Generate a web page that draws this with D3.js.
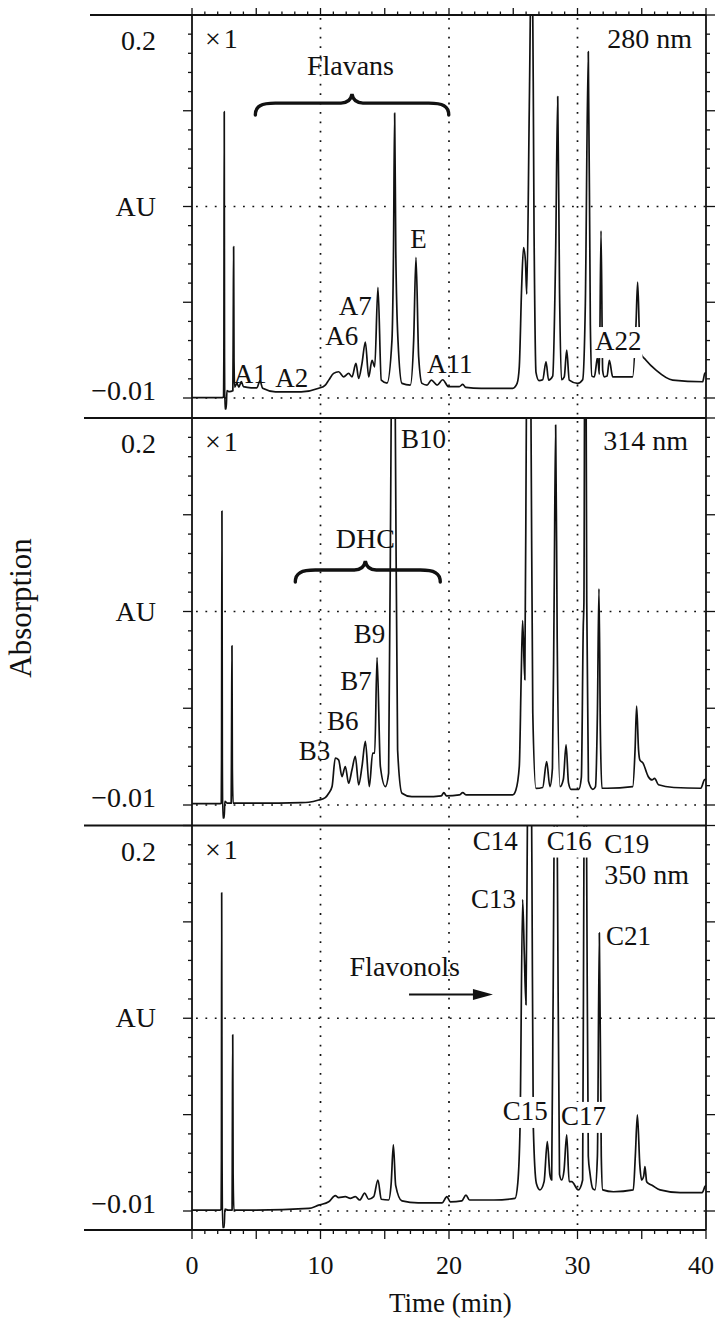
<!DOCTYPE html>
<html><head><meta charset="utf-8">
<script src="https://cdn.jsdelivr.net/npm/d3@7"></script>
<style>
html,body{margin:0;padding:0;background:#fff;}
svg{display:block;}
text{font-family:"Liberation Serif","Times New Roman",serif;fill:#111;}
</style>
</head><body>
<svg id="chart" width="716" height="1319"></svg>
<script>
// ---------------- DATA ----------------
const wavelengths = ["280 nm", "314 nm", "350 nm"];

// chromatogram traces: [time (min), absorbance (AU)]
const trace280 = [[0,-0.0098],[2.38,-0.0098],[2.46,-0.009],[2.48,0.012],[2.51,0.147],[2.53,0.012],[2.56,-0.016],[2.66,-0.016],[2.72,-0.006],[2.9,-0.0065],[3.18,-0.006],[3.21,0.03],[3.24,0.073],[3.27,0.01],[3.32,-0.004],[3.5,-0.002],[3.65,-0.004],[3.84,-0.001],[4.0,-0.0038],[4.6,-0.0044],[5.05,-0.0044],[5.29,-0.0006],[5.5,-0.0047],[6.5,-0.0066],[8.5,-0.0066],[9.86,-0.0047],[10.37,-0.0029],[10.64,-0.0002],[11.02,0.0035],[11.41,0.0044],[11.8,0.0016],[12.19,0.0035],[12.45,0.0016],[12.76,0.009],[12.97,0.0007],[13.23,0.009],[13.49,0.0207],[13.75,0.0016],[14.01,0.0107],[14.22,0.0071],[14.47,0.0507],[14.73,-0.0002],[15.18,-0.0018],[15.56,0.0216],[15.68,0.07],[15.77,0.1462],[15.86,0.07],[16.03,0.0216],[16.34,-0.002],[16.99,-0.0029],[17.25,0.0216],[17.43,0.0671],[17.64,0.0125],[17.9,-0.002],[18.29,-0.0029],[18.63,-0.0002],[19.07,-0.0029],[19.51,0.0],[19.97,-0.0038],[20.8,-0.0038],[21.07,-0.0025],[21.3,-0.0042],[22.5,-0.0047],[24.96,-0.0047],[25.3,-0.002],[25.47,0.0071],[25.65,0.05],[25.8,0.0725],[25.95,0.065],[26.05,0.047],[26.25,0.15],[26.46,0.26],[26.62,0.08],[26.77,0.004],[27.0,-0.0005],[27.29,0.0],[27.55,0.0098],[27.75,-0.0002],[28.07,0.002],[28.3,0.07],[28.46,0.1553],[28.6,0.05],[28.75,0.0],[28.97,0.0016],[29.16,0.0162],[29.36,-0.0002],[30.01,-0.002],[30.4,0.0],[30.61,0.0417],[30.84,0.1799],[31.0,0.03],[31.12,0.002],[31.31,0.0016],[31.57,0.0125],[31.7,0.003],[31.83,0.0817],[31.96,0.005],[32.09,0.0016],[32.3,0.002],[32.48,0.0107],[32.74,0.0016],[34.29,0.0016],[34.55,0.03],[34.68,0.0535],[34.82,0.025],[34.94,0.0144],[35.33,0.0107],[36.11,0.0053],[37.41,-0.0002],[39.74,-0.0011],[39.9,0.0035],[40,0.004]];

const trace314 = [[0,-0.0093],[2.2,-0.0093],[2.28,-0.009],[2.3,0.015],[2.33,0.1495],[2.36,0.015],[2.4,-0.017],[2.5,-0.017],[2.56,-0.008],[2.75,-0.009],[3.05,-0.009],[3.08,0.03],[3.11,0.0764],[3.14,0.01],[3.2,-0.009],[5.0,-0.009],[8.5,-0.0087],[9.08,-0.0085],[9.86,-0.0073],[10.37,-0.006],[10.64,-0.0036],[10.9,0.0],[11.15,0.0155],[11.41,0.0145],[11.67,0.0054],[11.93,0.0109],[12.19,0.0018],[12.45,0.0091],[12.71,0.0164],[12.97,0.0009],[13.23,0.0109],[13.49,0.0245],[13.8,0.0],[14.06,0.0182],[14.22,0.0182],[14.4,0.07],[14.66,0.0109],[15.05,0.0],[15.3,0.0073],[15.5,0.2],[15.66,0.34],[15.82,0.2],[16.0,0.02],[16.34,-0.0036],[17.1,-0.0055],[18.2,-0.0055],[19.4,-0.005],[19.6,-0.0033],[19.8,-0.005],[20.8,-0.0045],[21.07,-0.0033],[21.35,-0.0045],[24.96,-0.0045],[25.2,-0.002],[25.47,0.0109],[25.62,0.06],[25.73,0.09],[25.9,0.058],[26.02,0.2],[26.2,0.34],[26.38,0.2],[26.52,0.04],[26.77,-0.001],[27.29,-0.0005],[27.6,0.0136],[27.85,0.0],[28.05,0.01],[28.18,0.1],[28.3,0.1962],[28.42,0.08],[28.64,0.0],[28.9,0.004],[29.11,0.0227],[29.3,0.002],[29.5,-0.0015],[30.1,-0.0015],[30.3,0.005],[30.45,0.0873],[30.5,0.1],[30.6,0.34],[30.72,0.1],[30.85,0.003],[31.2,-0.0015],[31.4,0.0],[31.55,0.04],[31.67,0.1073],[31.78,0.03],[31.9,-0.0009],[32.3,-0.0009],[34.3,0.0],[34.48,0.02],[34.6,0.0436],[34.75,0.02],[34.85,0.0145],[35.1,0.0127],[35.5,0.0055],[35.8,0.0036],[36.0,0.0045],[36.3,0.001],[37.5,-0.0005],[39.6,-0.0009],[39.87,0.0036],[40,0.004]];

const trace350 = [[0,-0.0095],[2.2,-0.0095],[2.27,-0.009],[2.29,0.018],[2.31,0.1633],[2.34,0.018],[2.38,-0.019],[2.5,-0.019],[2.56,-0.009],[2.8,-0.0095],[3.12,-0.0095],[3.14,0.03],[3.17,0.086],[3.2,0.01],[3.26,-0.0095],[5.0,-0.0095],[9.08,-0.0086],[9.86,-0.0068],[10.64,-0.005],[11.15,-0.0016],[11.41,-0.0027],[11.93,-0.0022],[12.32,-0.0031],[12.71,-0.0022],[13.05,-0.004],[13.44,-0.0003],[13.75,-0.0036],[14.14,-0.0022],[14.47,0.0069],[14.73,-0.0036],[15.3,-0.004],[15.5,0.005],[15.67,0.026],[15.85,0.004],[16.34,-0.0045],[17.6,-0.0056],[19.45,-0.0056],[19.84,-0.0022],[20.1,-0.005],[21.0,-0.0045],[21.32,-0.0013],[21.6,-0.004],[23.5,-0.004],[25.14,-0.0031],[25.35,0.005],[25.53,0.036],[25.73,0.1597],[25.86,0.13],[25.99,0.1024],[26.1,0.2],[26.27,0.33],[26.45,0.18],[26.56,0.036],[26.8,0.005],[27.08,0.0015],[27.4,0.006],[27.65,0.0278],[27.85,0.01],[27.99,0.0069],[28.17,0.1842],[28.3,0.3],[28.43,0.1842],[28.6,0.01],[28.77,0.0069],[28.95,0.012],[29.16,0.0315],[29.35,0.006],[29.55,0.006],[30.06,0.0015],[30.4,0.0069],[30.5,0.184],[30.6,0.3],[30.71,0.184],[30.84,0.02],[30.97,0.0106],[31.2,0.002],[31.36,0.0015],[31.55,0.02],[31.7,0.1415],[31.85,0.02],[31.96,0.0015],[32.8,0.0005],[34.34,0.0015],[34.5,0.02],[34.66,0.0424],[34.85,0.015],[34.99,0.0069],[35.15,0.009],[35.25,0.0142],[35.38,0.006],[35.51,0.0051],[35.8,0.004],[36.42,0.0015],[38.0,0.0],[39.7,0.0],[39.92,0.0033],[40,0.004]];

const traces = [trace280, trace314, trace350];

// axis ticks and labels
const xMajorTicks = [0,5,10,15,20,25,30,35,40];
const xTickLabels = [0,10,20,30,40];
const xGridLines = [10,20,30];
const yMajorTicks = [-0.01,0.0425,0.095,0.1475,0.2];
const yGridLines = [-0.01,0.095];
const yTickLabels = ["0.2","AU","\u22120.01"];
const yLabelValues = [0.2,0.095,-0.01];

// peak annotations: panel index, text, time, AU, anchor, knockout
const peakLabels = [
  [0,"A1",3.25,-0.002,"start",false],
  [0,"A2",6.48,-0.0038,"start",false],
  [0,"A6",10.37,0.019,"start",false],
  [0,"A7",11.42,0.0355,"start",false],
  [0,"E",16.99,0.0721,"start",false],
  [0,"A11",18.29,0.0035,"start",false],
  [0,"A22",31.36,0.0163,"start",true],
  [1,"B10",16.26,0.1835,"start",false],
  [1,"B9",12.58,0.0777,"start",false],
  [1,"B7",11.54,0.0524,"start",false],
  [1,"B6",10.51,0.0307,"start",false],
  [1,"B3",8.3,0.0144,"start",false],
  [2,"C14",21.84,0.1869,"start",false],
  [2,"C16",27.6,0.1869,"start",true],
  [2,"C19",32.09,0.1851,"start",false],
  [2,"C13",21.71,0.1551,"start",false],
  [2,"C21",32.22,0.1351,"start",false],
  [2,"C15",24.18,0.0396,"start",true],
  [2,"C17",28.72,0.0369,"start",true]
];
const groupLabels = [
  [0,"Flavans",12.33,0.1671],
  [1,"DHC",13.49,0.1293],
  [2,"Flavonols",16.56,0.1178]
];
// braces: panel, start time, end time, tip time, level (AU)
const braces = [
  [0,4.93,19.98,12.45,0.1517],
  [1,8.04,19.32,13.49,0.1175]
];
// arrow: panel, from time, to time, level (AU)
const arrows = [[2,16.89,23.42,0.108]];

// ---------------- LAYOUT ----------------
const svg = d3.select("#chart");
const X0 = 192, X1 = 706;
const x = d3.scaleLinear().domain([0,40]).range([X0,X1]);
const panels = [
  {top:15, base:398, bottom:418},
  {top:418, base:805, bottom:825.5},
  {top:825.5, base:1211, bottom:1230}
];
panels.forEach(p => { p.y = d3.scaleLinear().domain([-0.01,0.2]).range([p.base,p.top]); });
const ink = "#111";

const defs = svg.append("defs");
panels.forEach((p,i) => {
  defs.append("clipPath").attr("id","clip"+i)
    .append("rect").attr("x",X0).attr("y",p.top).attr("width",X1-X0).attr("height",p.bottom-p.top);
});

// grid
panels.forEach((p,i) => {
  const g = svg.append("g").attr("stroke",ink).attr("stroke-width",1.7).attr("stroke-dasharray","1.8,7.6");
  xGridLines.forEach(t => g.append("line").attr("x1",x(t)).attr("x2",x(t)).attr("y1",p.top+3).attr("y2",p.bottom));
  yGridLines.forEach(v => g.append("line").attr("x1",X0+4).attr("x2",X1).attr("y1",p.y(v)).attr("y2",p.y(v)));
});

// traces
panels.forEach((p,i) => {
  const line = d3.line().x(d => x(d[0])).y(d => p.y(d[1])).curve(d3.curveMonotoneX);
  svg.append("path").datum(traces[i]).attr("clip-path","url(#clip"+i+")")
    .attr("d",line).attr("fill","none").attr("stroke",ink).attr("stroke-width",1.7)
    .attr("stroke-linejoin","round");
});

// braces
braces.forEach(b => {
  const p = panels[b[0]];
  const x0 = x(b[1]), x1 = x(b[2]), xm = x(b[3]), y = p.y(b[4]);
  const path = `M${x0},${y+12} C${x0},${y+3} ${x0+6},${y} ${x0+20},${y} L${xm-11},${y} C${xm-4},${y} ${xm-1},${y-3} ${xm},${y-9} C${xm+1},${y-3} ${xm+4},${y} ${xm+11},${y} L${x1-20},${y} C${x1-6},${y} ${x1},${y+3} ${x1},${y+12}`;
  svg.append("path").attr("d",path).attr("fill","none").attr("stroke",ink).attr("stroke-width",3.4).attr("stroke-linecap","round");
});

// arrows
arrows.forEach(a => {
  const p = panels[a[0]];
  const xa = x(a[1]), xb = x(a[2]), y = p.y(a[3]);
  svg.append("line").attr("x1",xa).attr("x2",xb-16).attr("y1",y).attr("y2",y).attr("stroke",ink).attr("stroke-width",2);
  svg.append("path").attr("d",`M${xb},${y} L${xb-20},${y-5.5} L${xb-20},${y+5.5} Z`).attr("fill",ink);
});

// labels
function addText(g, str, tx, ty, anchor, size, knock) {
  const t = g.append("text").attr("x",tx).attr("y",ty).attr("text-anchor",anchor).attr("font-size",size).text(str);
  if (knock) {
    const bb = t.node().getBBox();
    g.insert("rect","text").attr("x",bb.x-1).attr("y",bb.y+1).attr("width",bb.width+2).attr("height",bb.height+1).attr("fill","#fff");
  }
  return t;
}
panels.forEach((p,i) => {
  yTickLabels.forEach((s,k) => {
    const v = yLabelValues[k];
    const off = k===0 ? 35 : (k===1 ? 9 : 2);
    addText(svg, s, 156, p.y(v)+off, "end", 28, false);
  });
  addText(svg, "\u00d71", 205, p.top+33, "start", 28, false).attr("letter-spacing", 3);
});
addText(svg, wavelengths[0], 692, panels[0].top+33, "end", 28, false);
addText(svg, wavelengths[1], 688, panels[1].top+32, "end", 28, false);
addText(svg, wavelengths[2], 689, panels[2].y(0.1679), "end", 28, false);

groupLabels.forEach(l => {
  const p = panels[l[0]];
  addText(svg, l[1], x(l[2]), p.y(l[3]), "middle", 28, false);
});
peakLabels.forEach(l => {
  const p = panels[l[0]];
  const g = svg.append("g");
  addText(g, l[1], x(l[2]), p.y(l[3]), l[4], 27, l[5]);
});

// frame & axes
const fr = svg.append("g").attr("stroke",ink).attr("stroke-width",1.8).attr("fill","none");
fr.append("line").attr("x1",X0).attr("x2",X0).attr("y1",panels[0].top).attr("y2",panels[2].bottom);
fr.append("line").attr("x1",X1).attr("x2",X1).attr("y1",panels[0].top).attr("y2",panels[2].bottom);
fr.append("line").attr("x1",90).attr("x2",X1).attr("y1",panels[0].top).attr("y2",panels[0].top);
panels.forEach((p,i) => {
  fr.append("line").attr("x1",84).attr("x2",X1).attr("y1",p.bottom).attr("y2",p.bottom);
});
const yMinor = d3.range(0,21).map(k => -0.01 + k*0.0105);
panels.forEach(p => {
  yMinor.forEach(v => {
    const major = yMajorTicks.some(m => Math.abs(m-v)<1e-6);
    const L = major ? 9 : 4;
    fr.append("line").attr("x1",X0-L).attr("x2",X0).attr("y1",p.y(v)).attr("y2",p.y(v)).attr("stroke-width",1.3);
    fr.append("line").attr("x1",X1).attr("x2",X1+L).attr("y1",p.y(v)).attr("y2",p.y(v)).attr("stroke-width",1.3);
  });
});
d3.range(0,41).forEach(t => {
  const major = xMajorTicks.includes(t);
  fr.append("line").attr("x1",x(t)).attr("x2",x(t)).attr("y1",panels[0].top).attr("y2",panels[0].top-(major?7:3.5)).attr("stroke-width",1.3);
  fr.append("line").attr("x1",x(t)).attr("x2",x(t)).attr("y1",panels[2].bottom).attr("y2",panels[2].bottom+(major?9:4)).attr("stroke-width",1.3);
});
xTickLabels.forEach(t => {
  const last = t === 40;
  addText(svg, String(t), last ? 714 : x(t), 1274, last ? "end" : "middle", 26, false);
});
addText(svg, "Time (min)", x(20.1), 1312, "middle", 27, false);
svg.append("text").attr("transform","translate(31,608) rotate(-90)").attr("text-anchor","middle")
  .attr("font-size",31).text("Absorption");
</script>
</body></html>
